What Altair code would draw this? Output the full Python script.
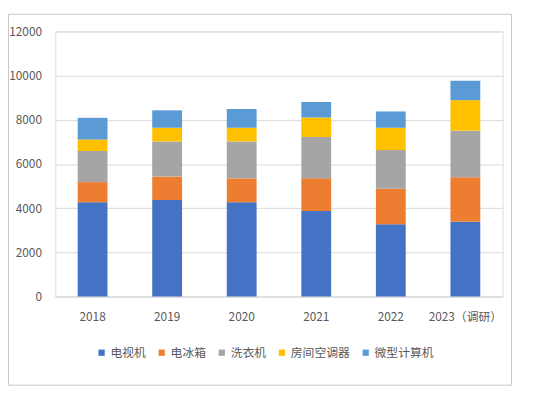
import altair as alt
import pandas as pd

years = ["2018", "2019", "2020", "2021", "2022", "2023（调研）"]
series = ["电视机", "电冰箱", "洗衣机", "房间空调器", "微型计算机"]
tv = [4270, 4370, 4270, 3870, 3270, 3390]
fridge = [910, 1060, 1080, 1490, 1610, 2010]
washer = [1410, 1590, 1670, 1860, 1750, 2110]
aircon = [520, 620, 620, 880, 1010, 1380]
pc = [980, 790, 850, 710, 740, 880]
colors = ["#4472C4", "#ED7D31", "#A5A5A5", "#FFC000", "#5B9BD5"]
y_ticks = [0, 2000, 4000, 6000, 8000, 10000, 12000]

rows = []
for si, (name, vals) in enumerate(zip(series, [tv, fridge, washer, aircon, pc])):
    for yr, v in zip(years, vals):
        rows.append({"year": yr, "series": name, "value": v, "order": si})
df = pd.DataFrame(rows)

FONT = "Noto Sans CJK SC"

bars = alt.Chart(df).mark_bar().encode(
    x=alt.X("year:N", sort=years, title=None,
            scale=alt.Scale(paddingInner=0.6, paddingOuter=0.3),
            axis=alt.Axis(labelAngle=0, ticks=False, domainColor="#D9D9D9",
                          labelColor="#595959", labelFontSize=12, labelPadding=15,
                          labelFont=FONT)),
    y=alt.Y("value:Q", title=None, stack="zero",
            scale=alt.Scale(domain=[0, 12000], nice=False),
            axis=alt.Axis(values=y_ticks, format="d", ticks=False, domain=False,
                          gridColor="#D9D9D9", labelColor="#595959", labelFontSize=12,
                          labelPadding=14, labelFont=FONT)),
    color=alt.Color("series:N", sort=series,
                    scale=alt.Scale(domain=series, range=colors),
                    legend=alt.Legend(title=None, orient="none", direction="horizontal",
                                      legendX=41, legendY=320, symbolType="square",
                                      symbolSize=40, labelFontSize=12, labelColor="#595959",
                                      labelFont=FONT, columnPadding=9, labelOffset=3)),
    order=alt.Order("order:Q", sort="ascending"),
)

base = alt.Chart(pd.DataFrame({"d": [0]}))
FR = dict(stroke="#C8C8C8", strokeWidth=1)
L, R, T, B = -47.5, 463, -17.5, 359
frame_top = base.mark_rule(**FR).encode(x=alt.value(L), x2=alt.value(R), y=alt.value(T))
frame_bot = base.mark_rule(**FR).encode(x=alt.value(L), x2=alt.value(R), y=alt.value(B))
frame_left = base.mark_rule(**FR).encode(x=alt.value(L), y=alt.value(T), y2=alt.value(B))
frame_right = base.mark_rule(**FR).encode(x=alt.value(R), y=alt.value(T), y2=alt.value(B))

chart = alt.layer(frame_top, frame_bot, frame_left, frame_right, bars).properties(
    width=454, height=269,
    autosize=alt.AutoSizeParams(type="none"),
    padding={"left": 48, "top": 21, "right": 44, "bottom": 90},
).configure_view(stroke=None).configure(font=FONT)

chart.save("out.html", embed_options={"renderer": "svg", "actions": False})
